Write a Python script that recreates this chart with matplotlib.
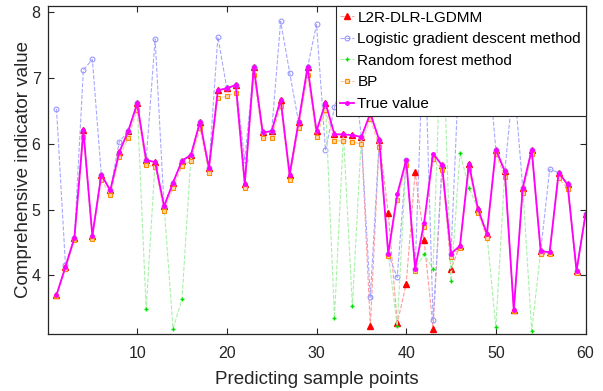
import numpy as np
import matplotlib
matplotlib.use("Agg")
import matplotlib.pyplot as plt

x = np.arange(1, 61)

true_value = [3.70, 4.13, 4.57, 6.20, 4.60, 5.53, 5.29, 5.87, 6.19, 6.61,
              5.75, 5.72, 5.05, 5.41, 5.74, 5.83, 6.33, 5.63, 6.81, 6.84,
              6.89, 5.39, 7.16, 6.17, 6.19, 6.67, 5.53, 6.33, 7.16, 6.19,
              6.62, 6.14, 6.14, 6.13, 6.10, 6.46, 6.05, 4.33, 5.23, 5.75,
              4.10, 4.80, 5.85, 5.67, 4.33, 4.45, 5.69, 5.01, 4.63, 5.91,
              5.58, 3.47, 5.33, 5.91, 4.37, 4.35, 5.56, 5.38, 4.07, 4.93]

l2r = [3.70, 4.13, 4.57, 6.20, 4.60, 5.53, 5.29, 5.87, 6.19, 6.61,
       5.75, 5.72, 5.05, 5.41, 5.74, 5.83, 6.33, 5.63, 6.81, 6.84,
       6.89, 5.39, 7.16, 6.17, 6.19, 6.67, 5.53, 6.33, 7.16, 6.19,
       6.62, 6.14, 6.14, 6.13, 6.10, 3.23, 6.05, 4.95, 3.27, 3.87,
       5.57, 4.54, 3.19, 5.67, 4.10, 4.45, 5.69, 5.01, 4.63, 5.91,
       5.58, 3.47, 5.33, 5.91, 4.37, 4.35, 5.56, 5.38, 4.07, 4.93]

logistic = [6.53, 4.16, 4.57, 7.12, 7.28, 5.53, 5.29, 6.03, 6.19, 6.61,
            5.75, 7.59, 5.05, 5.41, 5.74, 5.83, 6.33, 5.63, 7.62, 6.84,
            6.89, 5.75, 7.16, 6.17, 6.19, 7.86, 7.08, 6.33, 7.16, 7.81,
            5.90, 6.55, 7.00, 7.30, 6.10, 3.67, 6.05, 4.33, 3.97, 5.75,
            4.10, 7.90, 3.32, 5.67, 4.33, 7.50, 7.40, 7.60, 7.48, 5.91,
            5.58, 7.00, 5.33, 5.91, 4.37, 5.61, 5.56, 5.38, 4.07, 4.93]

random_forest = [3.70, 4.13, 4.57, 6.20, 4.60, 5.53, 5.29, 5.87, 6.19, 6.61,
                 3.49, 5.72, 5.05, 3.19, 3.64, 5.83, 6.33, 5.63, 6.81, 6.84,
                 6.89, 5.39, 7.16, 6.17, 6.19, 6.67, 5.53, 6.33, 7.16, 6.19,
                 6.62, 3.36, 6.14, 3.53, 6.10, 6.46, 6.05, 4.33, 3.23, 5.75,
                 4.10, 4.32, 4.10, 8.09, 3.91, 5.86, 5.33, 5.01, 4.63, 3.21,
                 5.58, 3.47, 5.33, 3.16, 4.37, 4.35, 5.56, 5.38, 4.07, 4.93]

bp = [3.69, 4.09, 4.53, 6.10, 4.55, 5.45, 5.22, 5.79, 6.09, 6.51,
      5.67, 5.65, 4.98, 5.33, 5.66, 5.74, 6.23, 5.55, 6.69, 6.72,
      6.77, 5.32, 7.04, 6.08, 6.09, 6.57, 5.45, 6.23, 7.04, 6.10,
      6.51, 6.04, 6.04, 6.03, 5.99, 6.38, 5.95, 4.30, 5.15, 5.68,
      4.06, 4.73, 5.77, 5.60, 4.28, 4.41, 5.62, 4.95, 4.57, 5.84,
      5.50, 3.46, 5.25, 5.84, 4.32, 4.32, 5.48, 5.31, 4.04, 4.88]

labels = ["L2R-DLR-LGDMM", "Logistic gradient descent method",
          "Random forest method", "BP", "True value"]

plt.rcParams['font.family'] = ['Liberation Sans', 'DejaVu Sans']

fig = plt.figure(figsize=(6.03, 3.91), dpi=100)
ax = fig.add_axes([0.0788, 0.1458, 0.8922, 0.8389])

ax.plot(x, l2r, linestyle='--', color='#ff9a9a', linewidth=0.8,
        marker='^', markersize=4.5, markerfacecolor='#ff0000',
        markeredgecolor='#ff0000', label=labels[0])
ax.plot(x, logistic, linestyle='--', color='#a8a8ff', linewidth=0.8,
        marker='o', markersize=3.5, markerfacecolor='none',
        markeredgecolor='#8c8cff', markeredgewidth=0.7, label=labels[1])
ax.plot(x, random_forest, linestyle='--', color='#a8f0a8', linewidth=0.8,
        marker='+', markersize=3.5, markeredgecolor='#00e000',
        markeredgewidth=1.0, label=labels[2])
ax.plot(x, bp, linestyle='--', color='#ffc89a', linewidth=0.8,
        marker='s', markersize=3.5, markerfacecolor='#ffd8a8',
        markeredgecolor='#ff8c00', markeredgewidth=0.8, label=labels[3])
ax.plot(x, true_value, linestyle='-', color='#ff00ff', linewidth=1.3,
        marker='.', markersize=5, label=labels[4])

ax.set_xlim(0, 60)
ax.set_ylim(3.11, 8.09)
ax.set_xticks([10, 20, 30, 40, 50, 60])
ax.set_yticks([4, 5, 6, 7, 8])
ax.tick_params(direction='in', length=4, width=0.8, top=True, right=True,
               labelsize=11.5, colors='#262626')
ax.tick_params(axis='x', pad=9)
ax.tick_params(axis='y', pad=5)
for s in ax.spines.values():
    s.set_linewidth(0.9)
    s.set_color('#262626')

ax.set_xlabel('Predicting sample points', fontsize=13.5, color='#262626',
              labelpad=7)
ax.set_ylabel('Comprehensive indicator value', fontsize=13.5, color='#262626',
              labelpad=0)

leg = ax.legend(loc='upper right', fontsize=11, frameon=True, fancybox=False,
                framealpha=1, edgecolor='#262626', borderaxespad=0,
                handlelength=0.9, handletextpad=0.2, labelspacing=0.5,
                borderpad=0.3)
leg.get_frame().set_linewidth(0.8)

fig.savefig('out.png', dpi=100)
